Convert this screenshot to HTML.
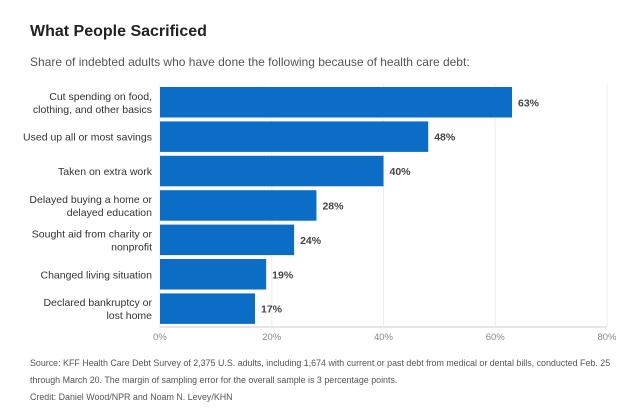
<!DOCTYPE html>
<html><head><meta charset="utf-8"><style>
body{margin:0;background:#fff;font-family:"Liberation Sans",sans-serif;}
#wrap{position:relative;width:640px;height:418px;overflow:hidden;}
.t{position:absolute;white-space:nowrap;}
</style></head><body>
<div id="wrap">
<div class="t" style="left:30px;top:23px;font-size:16px;font-weight:bold;color:#222;">What People Sacrificed</div>
<div class="t" style="left:30px;top:55px;font-size:12px;color:#555;">Share of indebted adults who have done the following because of health care debt:</div>
<svg id="chart" width="640" height="350" style="position:absolute;left:0;top:0"></svg>
<div class="t" style="left:30px;top:355px;font-size:8.9px;line-height:17px;color:#555;white-space:normal;width:610px;">Source: KFF Health Care Debt Survey of 2,375 U.S. adults, including 1,674 with current or past debt from medical or dental bills, conducted Feb. 25 through March 20. The margin of sampling error for the overall sample is 3 percentage points.<br>Credit: Daniel Wood/NPR and Noam N. Levey/KHN</div>
</div>
<script>
const categories=[["Cut spending on food,","clothing, and other basics"],["Used up all or most savings"],["Taken on extra work"],["Delayed buying a home or","delayed education"],["Sought aid from charity or","nonprofit"],["Changed living situation"],["Declared bankruptcy or","lost home"]];
const values=[63,48,40,28,24,19,17];
const ticks=[0,20,40,60,80];
const NS="http://www.w3.org/2000/svg";
const svg=document.getElementById("chart");
const x0=160,x1=607,top0=87,step=34.4,bh=30.5;
const x=v=>x0+(v/80)*(x1-x0);
const y=i=>top0+i*step;
function mk(t,a){const e=document.createElementNS(NS,t);for(const k in a)e.setAttribute(k,a[k]);svg.appendChild(e);return e;}
ticks.forEach(v=>{
 const g=mk("line",{x1:x(v),x2:x(v),y1:84,y2:327,stroke:"#eee","stroke-width":1});
 
 
 const t=mk("text",{x:x(v),y:340,"font-size":9.5,fill:"#888","text-anchor":"middle","font-family":"Liberation Sans"});
 t.textContent=v+"%";
 
 
});
const ax=mk("line",{x1:x0,x2:x1,y1:327,y2:327,stroke:"#ddd","stroke-width":1.5});


values.forEach((v,i)=>{
 const r=mk("rect",{x:x0,y:y(i),width:x(v)-x0,height:bh,fill:"#0b6dc6"});
 
 
 const l=mk("text",{x:x(v)+6,y:y(i)+bh/2+4,"font-size":10.5,"font-weight":"bold",fill:"#444","font-family":"Liberation Sans"});
 l.textContent=v+"%";
 
 
 const lines=categories[i];
 lines.forEach((s,j)=>{
  const c=mk("text",{x:152,y:y(i)+bh/2+4+(j-(lines.length-1)/2)*13,"font-size":10.5,fill:"#333","text-anchor":"end","font-family":"Liberation Sans"});
  c.textContent=s;
  
  
 });
});
</script>
</body></html>
